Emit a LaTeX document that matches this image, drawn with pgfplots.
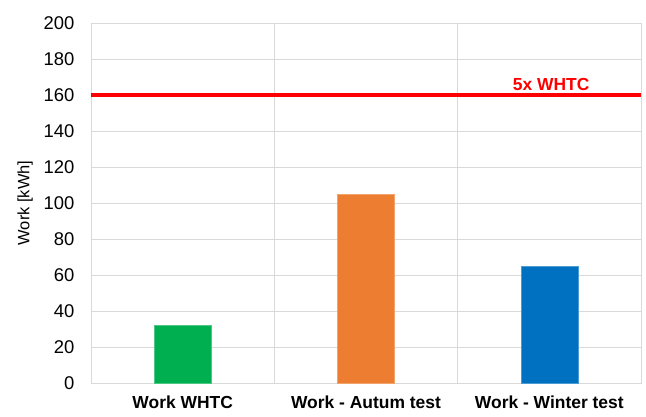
\documentclass[border=0pt]{standalone}
\usepackage{pgfplots}
\pgfplotsset{compat=1.18}
\usepackage{fontspec}
\setmainfont{Liberation Sans}
\definecolor{gridgray}{HTML}{D9D9D9}
\definecolor{cgreen}{HTML}{00B050}
\definecolor{corange}{HTML}{ED7D31}
\definecolor{cblue}{HTML}{0070C0}
\begin{document}
\begin{tikzpicture}
\begin{axis}[
  scale only axis,
  width=550bp, height=360bp,
  xmin=-0.5, xmax=2.5,
  ymin=0, ymax=200,
  ytick={0,20,...,200},
  xtick={0,1,2},
  xticklabels={Work WHTC, Work - Autum test, Work - Winter test},
  extra x ticks={0.5,1.5},
  extra x tick labels={},
  extra x tick style={grid=major, major grid style={gridgray, line width=0.8bp}, major tick length=0},
  ymajorgrids,
  major grid style={gridgray, line width=0.8bp},
  axis line style={gridgray, line width=0.8bp},
  major tick length=0,
  tick style={draw=none},
  /pgf/number format/assume math mode=true,
  yticklabel style={font=\fontsize{18.5}{20}\selectfont, xshift=-13bp},
  xticklabel style={font=\fontsize{17.5}{20}\selectfont\bfseries, yshift=-9bp},
  ylabel={Work [kWh]},
  every axis y label/.style={at={(axis description cs:-0.12,0.5)}, rotate=90, anchor=center, font=\fontsize{16.5}{19}\selectfont},
  clip=false,
]
\addplot[ybar, bar width=57bp, fill=cgreen, draw=cgreen!70!white] coordinates {(0,32)};
\addplot[ybar, bar width=57bp, fill=corange, draw=corange!70!white] coordinates {(1,105)};
\addplot[ybar, bar width=57bp, fill=cblue, draw=cblue!70!white] coordinates {(2,65)};
\addplot[red, line width=4bp] coordinates {(-0.5,160) (2.5,160)};
\node[text=red, font=\fontsize{17.5}{20}\selectfont\bfseries, anchor=base] at (axis cs:2.01,162.5) {5x WHTC};
\end{axis}
\pgfresetboundingbox
\path[use as bounding box] (-91bp,-34bp) rectangle (555bp,383bp);
\end{tikzpicture}
\end{document}
